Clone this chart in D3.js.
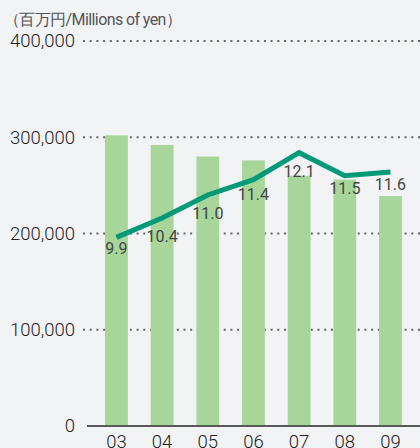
<!DOCTYPE html>
<html>
<head>
<meta charset="utf-8">
<script src="https://cdn.jsdelivr.net/npm/d3@7"></script>
<style>
  html, body { margin: 0; padding: 0; background: #f2f3f5; }
  svg { display: block; }
  text { font-family: Roboto, "Liberation Sans", sans-serif; }
</style>
</head>
<body>
<svg id="chart" width="420" height="448"></svg>
<script>
// Fiscal years (last two digits)
const years = ["03", "04", "05", "06", "07", "08", "09"];
// Bars: amount in millions of yen
const amounts = [302000, 292000, 280000, 276000, 260000, 256000, 239000];
// Line: ratio (%)
const ratios = [9.9, 10.4, 11.0, 11.4, 12.1, 11.5, 11.6];
// Left axis ticks
const yTicks = [0, 100000, 200000, 300000, 400000];
const unitLabel = "（百万円/Millions of yen）";

// Vertical offsets of the ratio labels below each point
const labelDy = [17, 24, 24, 20, 24, 18, 18];

const svg = d3.select("#chart");
const W = 420;
const yBase = 426, yTop = 41;

const x = d3.scaleBand()
  .domain(years)
  .range([93.6, 413.3])
  .paddingInner(0.5)
  .paddingOuter(0.25);

const y = d3.scaleLinear().domain([0, 400000]).range([yBase, yTop]);
const yR = d3.scaleLinear().domain([5, 15]).range([yBase, yTop]);

// Unit caption
svg.append("text")
  .attr("x", 4).attr("y", 25)
  .attr("font-size", 16)
  .attr("letter-spacing", -0.6)
  .attr("font-family", "Roboto, 'Noto Sans CJK JP', sans-serif")
  .attr("fill", "#555")
  .text(unitLabel);

// Dotted gridlines
svg.append("g")
  .selectAll("line")
  .data(yTicks.filter(d => d > 0))
  .join("line")
  .attr("x1", 83).attr("x2", W)
  .attr("y1", d => y(d)).attr("y2", d => y(d))
  .attr("stroke", "#666")
  .attr("stroke-width", 2)
  .attr("stroke-dasharray", "2,4.7");

// Left axis labels
const yAxis = svg.append("g")
  .attr("transform", "translate(75,0)")
  .call(d3.axisLeft(y).tickValues(yTicks).tickFormat(d3.format(",")).tickSize(0).tickPadding(0));
yAxis.select(".domain").remove();
yAxis.selectAll("text")
  .attr("font-size", 18.5)
  .attr("font-weight", 300)
  .attr("fill", "#222")
  .attr("font-family", "Roboto, sans-serif");

// Bars
svg.append("g")
  .selectAll("rect")
  .data(amounts)
  .join("rect")
  .attr("x", (d, i) => x(years[i]))
  .attr("width", x.bandwidth())
  .attr("y", d => y(d))
  .attr("height", d => yBase - y(d))
  .attr("fill", "#a8d69a");

// Baseline
svg.append("line")
  .attr("x1", 87).attr("x2", W)
  .attr("y1", yBase).attr("y2", yBase)
  .attr("stroke", "#595959")
  .attr("stroke-width", 2);

// X axis labels
const xAxis = svg.append("g")
  .attr("transform", `translate(0,${yBase})`)
  .call(d3.axisBottom(x).tickSize(0).tickPadding(9));
xAxis.select(".domain").remove();
xAxis.selectAll("text")
  .attr("font-size", 18.5)
  .attr("font-weight", 300)
  .attr("fill", "#222")
  .attr("font-family", "Roboto, sans-serif");

// Ratio line
const cx = i => x(years[i]) + x.bandwidth() / 2;
svg.append("path")
  .datum(ratios)
  .attr("fill", "none")
  .attr("stroke", "#009a79")
  .attr("stroke-width", 5)
  .attr("stroke-linejoin", "miter")
  .attr("d", d3.line().x((d, i) => cx(i)).y(d => yR(d)));

// Ratio labels
svg.append("g")
  .selectAll("text")
  .data(ratios)
  .join("text")
  .attr("x", (d, i) => cx(i))
  .attr("y", (d, i) => yR(d) + labelDy[i])
  .attr("text-anchor", "middle")
  .attr("font-size", 16)
  .attr("fill", "#444")
  .text(d => d.toFixed(1));
</script>
</body>
</html>
